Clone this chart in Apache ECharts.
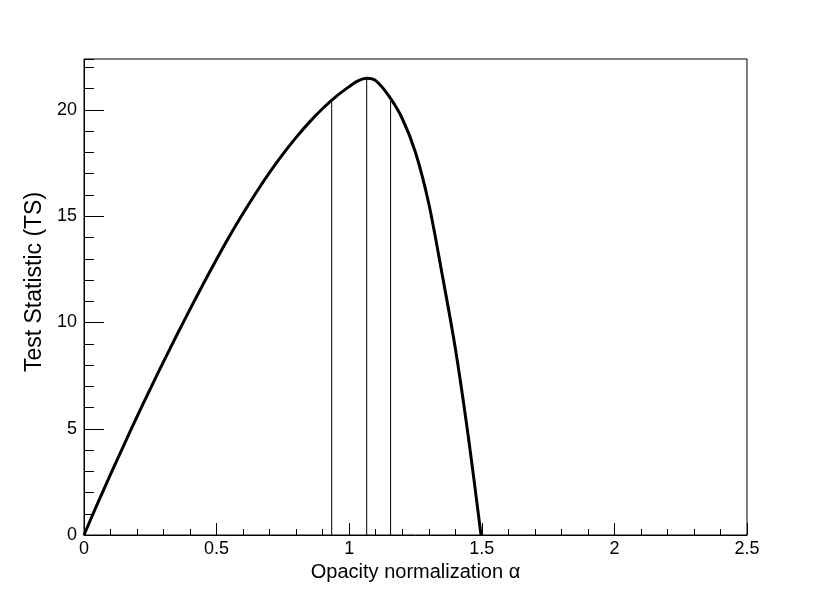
<!DOCTYPE html>
<html>
<head>
<meta charset="utf-8">
<script src="https://cdn.jsdelivr.net/npm/echarts@6/dist/echarts.min.js"></script>
<style>html,body{margin:0;padding:0;background:#fff;}#c{width:830px;height:596px;}</style>
</head>
<body>
<div id="c"></div>
<script>
// Curve: test statistic vs opacity normalization
const alphaValues = [0, 0.05, 0.1, 0.15, 0.2, 0.25, 0.3, 0.35, 0.4, 0.45, 0.5, 0.55, 0.6, 0.65, 0.7, 0.75, 0.8, 0.85, 0.9, 0.95, 1.0, 1.033, 1.066, 1.1, 1.15, 1.2, 1.25, 1.3, 1.35, 1.4, 1.45, 1.497];
const tsValues    = [0, 1.45, 2.85, 4.22, 5.57, 6.88, 8.16, 9.41, 10.63, 11.82, 12.98, 14.09, 15.14, 16.13, 17.06, 17.92, 18.71, 19.43, 20.07, 20.63, 21.1, 21.37, 21.49, 21.38, 20.65, 19.6, 18.0, 15.6, 12.3, 8.8, 4.55, 0];
// Vertical marker lines (best fit and interval bounds)
const markerX = [0.934, 1.066, 1.156];
const markerY = [20.42, 21.49, 20.42];
const xTickLabels = ["0", "0.5", "1", "1.5", "2", "2.5"];
const yTickLabels = ["0", "5", "10", "15", "20"];

const font = "Liberation Sans";
const chart = echarts.init(document.getElementById('c'), null, {renderer: 'canvas'});

const series = [{
  type: 'line', xAxisIndex: 0, yAxisIndex: 0,
  data: alphaValues.map((a, i) => [a, tsValues[i]]),
  showSymbol: false, smooth: 0.3,
  lineStyle: {color: '#000', width: 3},
  z: 5, silent: true
}];
markerX.forEach((mx, i) => {
  series.push({
    type: 'line', xAxisIndex: 0, yAxisIndex: 0,
    data: [[mx, 0], [mx, markerY[i]]],
    showSymbol: false,
    lineStyle: {color: '#000', width: 1},
    z: 4, silent: true
  });
});

chart.setOption({
  animation: false,
  backgroundColor: '#fff',
  grid: {left: 84, right: 83, top: 59, bottom: 61, show: true, borderColor: '#000', borderWidth: 1, backgroundColor: 'transparent'},
  xAxis: [{
    type: 'value', min: 0, max: 2.5, interval: 0.5,
    name: 'Opacity normalization α', nameLocation: 'middle', nameGap: 22,
    nameTextStyle: {fontFamily: font, fontSize: 20, color: '#000'},
    axisLine: {show: true, onZero: false, lineStyle: {color: '#000', width: 1}},
    axisTick: {show: true, inside: true, length: 12, lineStyle: {color: '#000'}},
    minorTick: {show: true, splitNumber: 5, length: 6, lineStyle: {color: '#000'}},
    splitLine: {show: false},
    axisLabel: {fontFamily: font, fontSize: 18, color: '#000', margin: 5,
      formatter: v => { const i = Math.round(v / 0.5); return xTickLabels[i] !== undefined ? xTickLabels[i] : ''; }}
  }],
  yAxis: [{
    type: 'value', min: 0, max: 22.4, interval: 5,
    name: 'Test Statistic (TS)', nameLocation: 'middle', nameGap: 32,
    nameTextStyle: {fontFamily: font, fontSize: 23, color: '#000', padding: [0, 0, 0, 30]},
    axisLine: {show: true, onZero: false, lineStyle: {color: '#000', width: 1}},
    axisTick: {show: true, inside: true, length: 20, lineStyle: {color: '#000'}},
    splitLine: {show: false},
    axisLabel: {fontFamily: font, fontSize: 18, color: '#000', margin: 7, showMaxLabel: false,
      formatter: v => { const i = Math.round(v / 5); return (Math.abs(v - i * 5) < 1e-6 && yTickLabels[i] !== undefined) ? yTickLabels[i] : ''; }}
  }, {
    type: 'value', min: 0, max: 22.4, interval: 1, position: 'left',
    axisLine: {show: false},
    axisTick: {show: true, inside: true, length: 10, lineStyle: {color: '#000'}},
    splitLine: {show: false},
    axisLabel: {show: false}
  }],
  series: series
});
</script>
</body>
</html>
